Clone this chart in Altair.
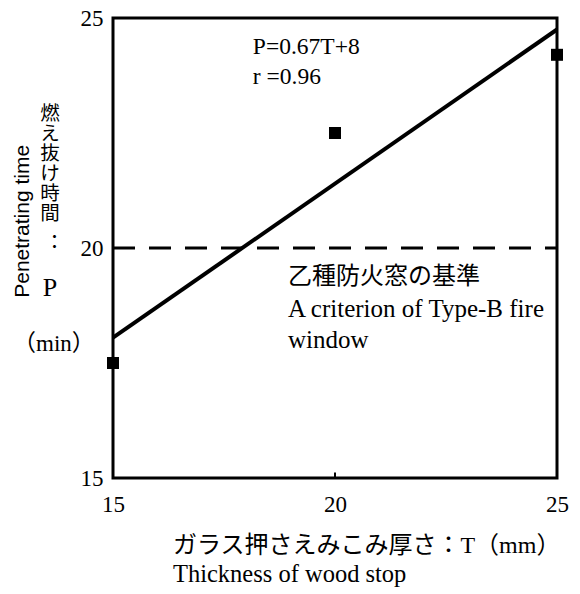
import altair as alt
import pandas as pd

# ---- data ----
T_points = [15, 20, 25]
P_points = [17.5, 22.5, 24.2]
fit_T = [15, 25]
fit_P = [18.05, 24.75]
criterion_P = [20]
x_ticks = [15, 20, 25]
y_ticks = [15, 20, 25]

eq_lines = ["P=0.67T+8", "r =0.96"]
crit_lines = ["乙種防火窓の基準", "A criterion of Type-B fire", "window"]
x_title_lines = ["ガラス押さえみこみ厚さ：T（mm）", "Thickness of wood stop"]
y_title_en = "Penetrating time"
y_title_ja = "燃え抜け時間"
y_title_colon = "︓"
y_title_sym = "P"
y_unit = "（min）"

SERIF = "Liberation Serif"
JA = "Liberation Serif, Noto Sans CJK JP"
SANS = "Liberation Sans"

xs = alt.Scale(domain=[15, 25], nice=False, zero=False)
ys = alt.Scale(domain=[15, 25], nice=False, zero=False)

pts = pd.DataFrame({"T": T_points, "P": P_points})
fit = pd.DataFrame({"T": fit_T, "P": fit_P})
crit = pd.DataFrame({"P": criterion_P})

base_x = alt.X("T:Q", scale=xs, axis=alt.Axis(
    values=x_ticks, title=None, domain=False, ticks=False, tickSize=0, grid=False,
    labelFont=SERIF, labelFontSize=23, labelColor="black", labelPadding=15,
    labelFlush=False, labelOverlap=False, format="d"))
base_y = alt.Y("P:Q", scale=ys, axis=alt.Axis(
    values=y_ticks, title=None, domain=False, ticks=False, tickSize=0, grid=False,
    labelFont=SERIF, labelFontSize=23, labelColor="black", labelPadding=10,
    labelFlush=False, labelOverlap=False, format="d"))

points = alt.Chart(pts).mark_point(shape="square", filled=True, size=144, color="black", opacity=1).encode(
    x=base_x, y=base_y)

line = alt.Chart(fit).mark_line(color="black", strokeWidth=4).encode(x="T:Q", y="P:Q")

dash = alt.Chart(crit).mark_rule(color="black", strokeWidth=3, strokeDash=[22, 14]).encode(
    y="P:Q", x=alt.value(0), x2=alt.value(444))

tick = alt.Chart(pd.DataFrame({"T": [20], "P": [15], "P2": [15.12]})).mark_rule(
    color="black", strokeWidth=2).encode(x="T:Q", y="P:Q", y2="P2:Q")


def text_layer(rows, font, size, align="left", angle=0, baseline="middle"):
    df = pd.DataFrame(rows, columns=["T", "P", "label"])
    return alt.Chart(df).mark_text(
        font=font, fontSize=size, align=align, baseline=baseline, color="black", angle=angle
    ).encode(x="T:Q", y="P:Q", text="label:N")


eq = text_layer([(18.15, 24.37, eq_lines[0]), (18.15, 23.72, eq_lines[1])], SERIF, 23.5)
crit_ja = text_layer([(18.94, 19.37, crit_lines[0])], JA, 24)
crit_en = text_layer([(18.94, 18.68, crit_lines[1]), (18.94, 17.99, crit_lines[2])], SERIF, 25)
xt_ja = text_layer([(16.35, 13.53, x_title_lines[0])], JA, 24)
xt_en = text_layer([(16.35, 12.90, x_title_lines[1])], SERIF, 24.5)
yt_en = text_layer([(12.97, 20.58, y_title_en)], SANS, 21, align="center", angle=270)
ja_P = [22.91, 22.48, 22.04, 21.61, 21.17, 20.74]
yt_ja = text_layer([(13.58, p, ch) for p, ch in zip(ja_P, list(y_title_ja))], JA, 19.5, align="center")
yt_colon = text_layer([(13.58, 20.07, y_title_colon)], JA, 20, align="center")
yt_sym = text_layer([(13.58, 19.13, y_title_sym)], SERIF, 26, align="center")
yt_unit = text_layer([(13.67, 17.92, y_unit)], JA, 23, align="center")

chart = alt.layer(
    dash, line, tick, points, eq, crit_ja, crit_en, xt_ja, xt_en, yt_en, yt_ja, yt_colon, yt_sym, yt_unit
).properties(
    width=444, height=460,
    autosize=alt.AutoSizeParams(type="none"),
    padding={"left": 105, "top": 10, "right": 15, "bottom": 110},
    background="white",
).configure_view(stroke="black", strokeWidth=3)

chart.save("out.html", embed_options={"renderer": "svg", "actions": False})
